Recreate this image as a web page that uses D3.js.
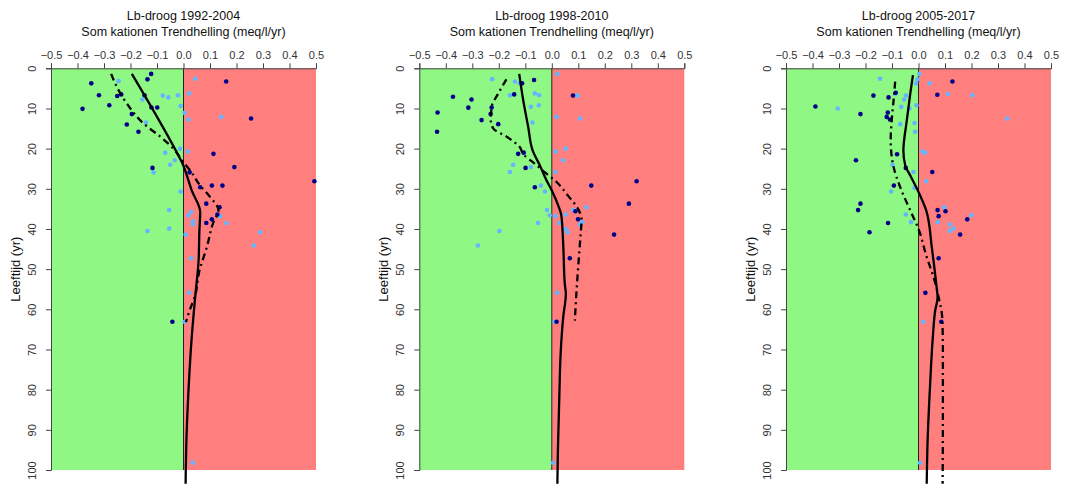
<!DOCTYPE html>
<html><head><meta charset="utf-8">
<script src="https://cdn.jsdelivr.net/npm/d3@7"></script>
<style>body{margin:0;background:#fff}svg{display:block}</style>
</head><body>
<svg id="c" width="1074" height="485"></svg>
<script>
// ---- Data ----
const titles = ["Lb-droog 1992-2004", "Lb-droog 1998-2010", "Lb-droog 2005-2017"];
const subtitle = "Som kationen Trendhelling (meq/l/yr)";
const yLabel = "Leeftijd (yr)";
const xTicks = [-0.5,-0.4,-0.3,-0.2,-0.1,0.0,0.1,0.2,0.3,0.4,0.5];
const yTicks = [0,10,20,30,40,50,60,70,80,90,100];

// Panel 1 (1992-2004)
const p1DarkSlope = [-0.122,-0.136,-0.348,0.161,-0.319,-0.25,-0.235,-0.147,-0.28,-0.381,-0.099,-0.121,-0.195,-0.214,-0.17,0.255,0.113,0.192,-0.117,0.023,0.494,0.107,0.147,0.063,0.086,0.136,0.128,0.107,0.086,-0.042];
const p1DarkAge   = [1.4,2.75,3.75,3.3,6.7,6.9,6.5,6.7,9.2,10.1,9.75,9.75,11.4,14,15.8,12.5,21.3,24.6,24.8,25.9,28.1,29.2,29.2,29.6,33.7,34.6,36.4,37.6,38.5,63.1];
const p1LightSlope = [-0.245,0.044,-0.078,-0.057,-0.021,0.021,-0.155,-0.011,0.004,0.019,0.142,-0.142,-0.013,0.016,-0.069,-0.033,-0.05,-0.113,-0.011,-0.054,0.029,0.019,0.035,0.035,0.138,0.162,-0.136,-0.054,0.008,0.289,0.265,0.029,0.021,0.004,0.035];
const p1LightAge   = [3.2,2.6,6.8,7.25,6.7,6.25,7.75,9.4,11.1,12.75,12.1,13.5,20,20.7,21,22.9,24,25.9,30.7,35.3,35.7,36.6,38.1,38.8,36.8,38.5,40.5,39.9,41.4,40.8,44.1,47.3,55.9,63.1,98.2];
const p1SolidSlope = [-0.195,-0.013,-0.006,0.006,0.031,0.063,0.06,0.057,0.044,0.031,0.019,0.01,0.008];
const p1SolidAge   = [1.4,22.5,23.4,25.4,30.4,35.8,40.4,47.8,57,67,80,95,103.4];
const p1DashSlope = [-0.273,-0.258,-0.214,-0.151,-0.088,-0.038,0,0.025,0.063,0.1,0.132,0.113,0.088,0.059,0.044,0.023,0.009];
const p1DashAge   = [1.4,3.75,8.75,13.75,17,20,23.4,25.4,29.2,32,35.4,38.3,44.5,50.7,56.6,60.3,63.2];

// Panel 2 (1998-2010)
const p2DarkSlope = [-0.067,-0.112,-0.142,-0.373,-0.303,-0.315,-0.227,-0.431,-0.231,-0.265,-0.202,-0.433,0.08,-0.127,-0.106,-0.099,-0.064,0.149,0.32,0.291,0.089,0.099,0.235,0.068,0.018];
const p2DarkAge   = [2.9,3.75,6.5,7.1,7.75,9.8,9.75,11,11.4,12.9,13.9,15.8,6.8,21.3,21,24.8,29.6,29.2,28.1,33.7,35.6,37.6,41.4,47.3,63.1];
const p2LightSlope = [0.021,0.018,0.107,0.098,-0.225,-0.139,-0.121,-0.158,-0.064,-0.048,-0.049,-0.079,-0.073,0.015,0.052,0.043,-0.146,-0.079,-0.158,0.014,-0.041,-0.026,-0.018,-0.008,0.014,0.052,0.08,0.131,0.028,-0.052,0.106,0.114,0.053,0.059,-0.198,-0.279,0.02,0.011,0.005];
const p2LightAge   = [1.4,12.1,12.5,6.8,2.7,3.3,3.75,6.7,6.25,6.7,9.2,9.6,13.5,20.7,20,22.9,24,24.6,25.8,25.8,29.2,30.7,35.3,36.6,36.8,36.4,35.2,34.6,38.5,38.5,38.9,38.3,40,40.8,40.5,44.1,55.9,63.1,98.2];
const p2SolidSlope = [-0.123,-0.108,-0.089,-0.072,-0.045,-0.02,0,0.024,0.036,0.043,0.049,0.053,0.043,0.034,0.028,0.023,0.021];
const p2SolidAge   = [1.4,7.9,14.6,20.5,24.2,27.9,30.4,34.1,36.6,43.7,53.7,56.1,62,70.2,82.7,95.1,103.4];
const p2DashSlope = [-0.171,-0.202,-0.227,-0.23,-0.221,-0.171,-0.121,-0.108,-0.064,-0.026,0.018,0.061,0.099,0.112,0.106,0.095,0.087];
const p2DashAge   = [2.75,6.25,9.6,12.9,15,17,19.6,21.3,23.8,25.9,28.3,31.7,35,37.5,43.7,53.7,62.8];

// Panel 3 (2005-2017)
const p3DarkSlope = [0.128,0.071,-0.17,-0.086,-0.113,-0.389,-0.219,-0.116,-0.12,-0.108,-0.081,-0.236,-0.048,0.052,-0.093,-0.219,-0.228,0.072,0.102,0.076,0.184,-0.115,-0.185,0.157,0.076,0.026,0.086];
const p3DarkAge   = [3.3,6.6,6.8,6.1,7.25,9.5,11.4,11,12.1,12.75,21.4,22.9,24.8,25.8,29.2,33.7,35.3,35.3,35.6,36.8,37.6,38.5,40.8,41.4,47.3,55.9,63.1];
const p3LightSlope = [-0.145,0.003,-0.004,-0.009,0.042,0.111,0.203,-0.047,-0.054,-0.088,-0.305,-0.065,-0.034,-0.008,0.335,-0.069,-0.015,-0.013,0.016,0.025,-0.098,-0.019,0.029,-0.103,-0.015,-0.048,-0.028,0.097,0.073,0.118,0.132,0.118,0.2,0.018,0.006];
const p3LightAge   = [2.6,1.4,2.75,3.75,3.75,6.4,6.7,6.8,7.75,6.4,10,9.6,10,9.2,12.5,13.9,13.6,15.8,20.7,21,24,25.8,28.1,30.7,29.75,36.4,38.3,34.6,38.3,38.9,39.9,40.5,36.6,63.1,98.2];
const p3SolidSlope = [-0.021,-0.031,-0.044,-0.057,-0.05,-0.031,0,0.031,0.05,0.067,0.072,0.063,0.054,0.044,0.034,0.031];
const p3SolidAge   = [1.7,6.25,12.9,20.5,24.2,26.7,30.8,35.8,44.5,53.7,57,60.3,67,78.5,93.5,103.4];
const p3DashSlope = [-0.088,-0.094,-0.101,-0.105,-0.101,-0.094,-0.069,-0.031,0,0.031,0.057,0.076,0.09,0.092,0.092,0.091];
const p3DashAge   = [3.3,7.9,12.9,17.9,22,24.6,29.6,35.4,40,47,52,57,62.5,70.2,86.8,103.4];

// ---- Drawing ----
const panels = [
  {title: titles[0], dx: p1DarkSlope, dy: p1DarkAge, lx: p1LightSlope, ly: p1LightAge, sx: p1SolidSlope, sy: p1SolidAge, ax: p1DashSlope, ay: p1DashAge},
  {title: titles[1], dx: p2DarkSlope, dy: p2DarkAge, lx: p2LightSlope, ly: p2LightAge, sx: p2SolidSlope, sy: p2SolidAge, ax: p2DashSlope, ay: p2DashAge},
  {title: titles[2], dx: p3DarkSlope, dy: p3DarkAge, lx: p3LightSlope, ly: p3LightAge, sx: p3SolidSlope, sy: p3SolidAge, ax: p3DashSlope, ay: p3DashAge}
];
const panelLeft = [51, 419.3, 786];
const plotW = 265;
const plotTop = 68.3, plotBottom = 470;
const svg = d3.select("#c");
const font = "Liberation Sans, Arial, sans-serif";

panels.forEach((p, i) => {
  const x = d3.scaleLinear().domain([-0.5, 0.5]).range([panelLeft[i], panelLeft[i] + plotW]);
  const y = d3.scaleLinear().domain([0, 100]).range([plotTop, plotBottom]);
  const g = svg.append("g");

  g.append("rect").attr("x", x(-0.5)).attr("y", y(0)).attr("width", x(0) - x(-0.5)).attr("height", y(100) - y(0)).attr("fill", "#8ff884");
  g.append("rect").attr("x", x(0)).attr("y", y(0)).attr("width", x(0.5) - x(0)).attr("height", y(100) - y(0)).attr("fill", "#ff7f7f");
  g.append("line").attr("x1", x(0)).attr("x2", x(0)).attr("y1", y(0)).attr("y2", y(100)).attr("stroke", "#222").attr("stroke-width", 1);

  // top axis
  const xa = g.append("g").attr("transform", `translate(0,${y(0)})`)
    .call(d3.axisTop(x).tickValues(xTicks).tickFormat(d3.format(".1f")).tickSize(5).tickPadding(4));
  xa.select(".domain").attr("stroke", "#444");
  xa.selectAll(".tick line").attr("stroke", "#444");
  xa.selectAll("text").attr("font-family", font).attr("font-size", 11).attr("fill", "#333");

  // left axis
  const ya = g.append("g").attr("transform", `translate(${x(-0.5)},0)`)
    .call(d3.axisLeft(y).tickValues(yTicks).tickSize(5).tickPadding(4));
  ya.select(".domain").attr("stroke", "#444");
  ya.selectAll(".tick line").attr("stroke", "#444");
  ya.selectAll("text").attr("font-family", font).attr("font-size", 11).attr("fill", "#333")
    .attr("text-anchor", "middle").attr("dy", null).attr("x", null)
    .attr("transform", "translate(-15,0) rotate(-90)");

  g.append("text").attr("transform", `translate(${x(-0.5) - 31},${(y(0) + y(100)) / 2}) rotate(-90)`)
    .attr("text-anchor", "middle").attr("font-family", font).attr("font-size", 13).attr("fill", "#111").text(yLabel);

  g.append("text").attr("x", x(0)).attr("y", 20).attr("text-anchor", "middle").attr("font-family", font).attr("font-size", 12.5).attr("fill", "#111").text(p.title);
  g.append("text").attr("x", x(0)).attr("y", 36).attr("text-anchor", "middle").attr("font-family", font).attr("font-size", 12.5).attr("fill", "#111").text(subtitle);

  g.selectAll(".lp").data(d3.range(p.lx.length)).join("circle")
    .attr("r", 2.3).attr("fill", "#63b5ff")
    .attr("cx", k => x(p.lx[k])).attr("cy", k => y(p.ly[k]));
  g.selectAll(".dp").data(d3.range(p.dx.length)).join("circle")
    .attr("r", 2.3).attr("fill", "#00008b")
    .attr("cx", k => x(p.dx[k])).attr("cy", k => y(p.dy[k]));

  const line = d3.line().x(d => x(d[0])).y(d => y(d[1])).curve(d3.curveMonotoneY);
  g.append("path").attr("d", line(p.ax.map((v, k) => [v, p.ay[k]])))
    .attr("fill", "none").attr("stroke", "#000").attr("stroke-width", 2.3).attr("stroke-dasharray", "7,4,2,4");
  g.append("path").attr("d", line(p.sx.map((v, k) => [v, p.sy[k]])))
    .attr("fill", "none").attr("stroke", "#000").attr("stroke-width", 2.3);
});
</script>
</body></html>
